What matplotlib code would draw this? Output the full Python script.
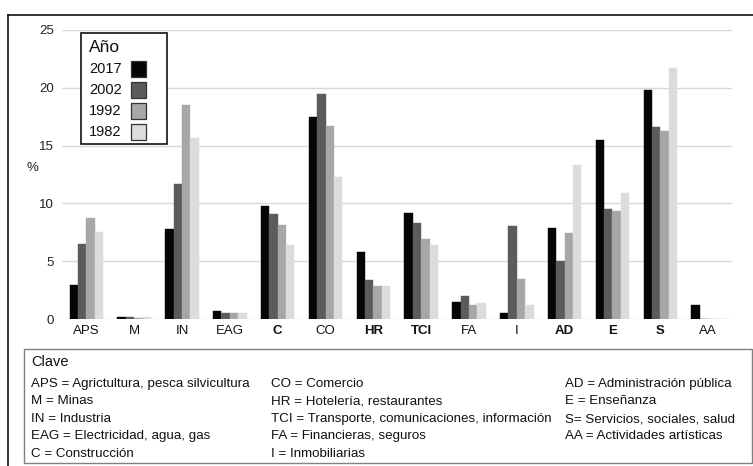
import matplotlib
matplotlib.use("Agg")
import matplotlib.pyplot as plt
from matplotlib.patches import Rectangle
from matplotlib.lines import Line2D
import numpy as np

plt.rcParams['font.family'] = ['Liberation Sans', 'DejaVu Sans']

categories = ["APS", "M", "IN", "EAG", "C", "CO", "HR", "TCI", "FA", "I", "AD", "E", "S", "AA"]
bold_categories = ["C", "HR", "TCI", "AD", "E", "S"]
years = ["2017", "2002", "1992", "1982"]
v2017 = [2.9, 0.2, 7.8, 0.7, 9.8, 17.45, 5.8, 9.15, 1.45, 0.5, 7.9, 15.45, 19.8, 1.25]
v2002 = [6.5, 0.2, 11.7, 0.55, 9.05, 19.45, 3.35, 8.3, 1.95, 8.05, 5.0, 9.5, 16.6, 0.0]
v1992 = [8.7, 0.12, 18.5, 0.5, 8.15, 16.7, 2.85, 6.95, 1.25, 3.5, 7.45, 9.35, 16.25, 0.0]
v1982 = [7.5, 0.15, 15.65, 0.55, 6.4, 12.3, 2.85, 6.4, 1.4, 1.2, 13.3, 10.9, 21.75, 0.0]
series = [v2017, v2002, v1992, v1982]
colors = ["#050505", "#5b5b5b", "#a7a7a7", "#dcdcdc"]
yticks = [0, 5, 10, 15, 20, 25]

key_title = "Clave"
key_col1 = ["APS = Agrictultura, pesca silvicultura", "M = Minas", "IN = Industria",
            "EAG = Electricidad, agua, gas", "C = Construcción"]
key_col2 = ["CO = Comercio", "HR = Hotelería, restaurantes",
            "TCI = Transporte, comunicaciones, información", "FA = Financieras, seguros",
            "I = Inmobiliarias"]
key_col3 = ["AD = Administración pública", "E = Enseñanza", "S= Servicios, sociales, salud",
            "AA = Actividades artísticas"]

W, H = 753, 466
fig = plt.figure(figsize=(W / 100, H / 100), dpi=100)

def fx(x):
    return x / W

def fy(y):
    return 1 - y / H

ax = fig.add_axes([fx(62), fy(319), fx(732) - fx(62), fy(30) - fy(319)])
x = np.arange(len(categories))
bw = 0.175
for i, (vals, c) in enumerate(zip(series, colors)):
    ax.bar(x + (i - 1.5) * bw, vals, width=bw, color=c, edgecolor=c, linewidth=0.3, zorder=3)

ax.set_xlim(-0.51, 13.5)
ax.set_ylim(0, 25)
ax.set_yticks(yticks)
ax.set_yticklabels([str(t) for t in yticks], fontsize=9.5, color="#222222")
ax.set_xticks(x)
ax.set_xticklabels(categories, fontsize=9.5, color="#111111")
for lab in ax.get_xticklabels():
    if lab.get_text() in bold_categories:
        lab.set_fontweight("bold")
ax.tick_params(axis="both", length=0)
ax.tick_params(axis="y", pad=6)
ax.tick_params(axis="x", pad=4)
for s in ax.spines.values():
    s.set_visible(False)
ax.grid(axis="y", color="#d9d9d9", linewidth=1.0, zorder=0)
ax.set_axisbelow(True)

fig.text(fx(32), fy(168), "%", fontsize=9.5, ha="center", va="center", color="#222222")

# legend (drawn as figure decoration)
fig.add_artist(Rectangle((fx(81), fy(144)), fx(167) - fx(81), fy(33) - fy(144),
                         transform=fig.transFigure, facecolor="white",
                         edgecolor="#111111", linewidth=1.2, zorder=5))
fig.text(fx(89), fy(48), "Año", fontsize=12.5, ha="left", va="center", color="#111111", zorder=6)
for ly, yr, c in zip([69, 90, 111, 132], years, colors):
    fig.text(fx(89), fy(ly), yr, fontsize=10.5, ha="left", va="center", color="#111111", zorder=6)
    fig.add_artist(Rectangle((fx(131), fy(ly + 8)), fx(146) - fx(131), fy(ly - 8) - fy(ly + 8),
                             transform=fig.transFigure, facecolor=c,
                             edgecolor="#333333", linewidth=0.9, zorder=6))

# outer frame lines
fig.add_artist(Line2D([fx(8), 1.0], [fy(15), fy(15)], color="#111111", linewidth=1.2))
fig.add_artist(Line2D([fx(8), fx(8)], [fy(15), 0.0], color="#111111", linewidth=1.2))

# key box
fig.add_artist(Rectangle((fx(24), fy(463)), fx(752) - fx(24), fy(349) - fy(463),
                         transform=fig.transFigure, facecolor="white",
                         edgecolor="#808080", linewidth=1.0))
fig.text(fx(31), fy(362), key_title, fontsize=10.5, ha="left", va="center", color="#111111")
row_y = [384, 401, 419, 436, 454]
for col_x, col in zip([31, 271, 565], [key_col1, key_col2, key_col3]):
    for ry, t in zip(row_y, col):
        fig.text(fx(col_x), fy(ry), t, fontsize=9.6, ha="left", va="center", color="#111111")

fig.savefig("out.png", dpi=100)
